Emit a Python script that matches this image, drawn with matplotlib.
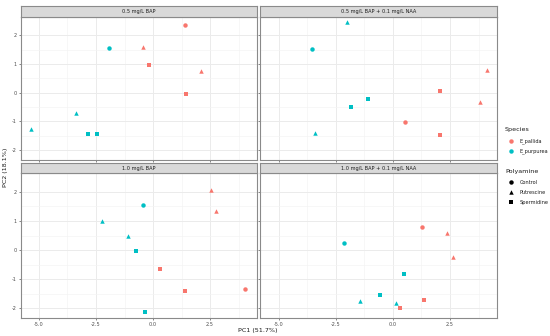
import matplotlib
matplotlib.use("Agg")
import matplotlib.pyplot as plt
from matplotlib.lines import Line2D
import numpy as np

plt.rcParams["axes.unicode_minus"] = False

panels = ["0.5 mg/L BAP", "0.5 mg/L BAP + 0.1 mg/L NAA",
          "1.0 mg/L BAP", "1.0 mg/L BAP + 0.1 mg/L NAA"]
species_names = ["E_pallida", "E_purpurea"]
polyamine_names = ["Control", "Putrescine", "Spermidine"]
x_tick_labels = ["-5.0", "-2.5", "0.0", "2.5"]

# panel 0: 0.5 mg/L BAP
p0_species = ["E_purpurea", "E_pallida", "E_pallida", "E_pallida", "E_pallida",
              "E_pallida", "E_purpurea", "E_purpurea", "E_purpurea", "E_purpurea"]
p0_poly = ["Control", "Putrescine", "Control", "Spermidine", "Putrescine",
           "Spermidine", "Putrescine", "Putrescine", "Spermidine", "Spermidine"]
p0_pc1 = [-1.94, -0.43, 1.39, -0.19, 2.10, 1.45, -3.36, -5.35, -2.86, -2.46]
p0_pc2 = [1.56, 1.59, 2.34, 0.96, 0.74, -0.05, -0.72, -1.26, -1.42, -1.45]

# panel 1: 0.5 mg/L BAP + 0.1 mg/L NAA
p1_species = ["E_purpurea", "E_purpurea", "E_pallida", "E_purpurea", "E_purpurea",
              "E_pallida", "E_purpurea", "E_pallida", "E_pallida", "E_pallida"]
p1_poly = ["Putrescine", "Control", "Spermidine", "Spermidine", "Spermidine",
           "Control", "Putrescine", "Spermidine", "Putrescine", "Putrescine"]
p1_pc1 = [-2.02, -3.52, 2.08, -1.07, -1.81, 0.53, -3.40, 2.08, 4.11, 3.80]
p1_pc2 = [2.45, 1.52, 0.05, -0.21, -0.49, -1.02, -1.39, -1.47, 0.78, -0.31]

# panel 2: 1.0 mg/L BAP
p2_species = ["E_pallida", "E_pallida", "E_purpurea", "E_purpurea", "E_purpurea",
              "E_purpurea", "E_pallida", "E_pallida", "E_pallida", "E_purpurea"]
p2_poly = ["Putrescine", "Putrescine", "Control", "Putrescine", "Putrescine",
           "Spermidine", "Spermidine", "Spermidine", "Control", "Spermidine"]
p2_pc1 = [2.54, 2.78, -0.43, -2.22, -1.10, -0.76, 0.32, 1.42, 4.04, -0.36]
p2_pc2 = [2.06, 1.34, 1.54, 0.99, 0.50, -0.03, -0.66, -1.41, -1.34, -2.13]

# panel 3: 1.0 mg/L BAP + 0.1 mg/L NAA
p3_species = ["E_pallida", "E_pallida", "E_pallida", "E_purpurea", "E_purpurea",
              "E_purpurea", "E_pallida", "E_purpurea", "E_purpurea", "E_pallida"]
p3_poly = ["Control", "Putrescine", "Putrescine", "Control", "Spermidine",
           "Spermidine", "Spermidine", "Putrescine", "Putrescine", "Spermidine"]
p3_pc1 = [1.26, 2.36, 2.62, -2.13, 0.50, -0.58, 1.36, -1.42, 0.15, 0.31]
p3_pc2 = [0.78, 0.60, -0.23, 0.23, -0.83, -1.54, -1.71, -1.76, -1.82, -2.00]

panel_data = [(p0_species, p0_poly, p0_pc1, p0_pc2),
              (p1_species, p1_poly, p1_pc1, p1_pc2),
              (p2_species, p2_poly, p2_pc1, p2_pc2),
              (p3_species, p3_poly, p3_pc1, p3_pc2)]

colors = {"E_pallida": "#F8766D", "E_purpurea": "#00BFC4"}
markers = {"Control": "o", "Putrescine": "^", "Spermidine": "s"}

W, H = 550, 336
fig = plt.figure(figsize=(W / 100, H / 100), dpi=100)

def rect(x0, y0, x1, y1):
    return [x0 / W, (H - y1) / H, (x1 - x0) / W, (y1 - y0) / H]

cols = [(20.7, 257.3), (260.3, 497.3)]
rows = [(16.7, 160.0), (173.3, 318.3)]
strips = [(6.0, 16.7), (163.0, 173.3)]

xlim = (-5.80, 4.57)
ylim = (-2.34, 2.64)
border_col = "#8a8a8a"
grid_col = "#EBEBEB"
tick_fs = 3.6
title_fs = 4.6

for i, name in enumerate(panels):
    r, c = divmod(i, 2)
    x0, x1 = cols[c]
    y0, y1 = rows[r]
    ax = fig.add_axes(rect(x0, y0, x1, y1))
    ax.set_xlim(*xlim)
    ax.set_ylim(*ylim)
    ax.set_xticks([-5.0, -2.5, 0.0, 2.5])
    ax.set_xticks([-3.75, -1.25, 1.25, 3.75], minor=True)
    ax.set_yticks([-2, -1, 0, 1, 2])
    ax.set_yticks([-1.5, -0.5, 0.5, 1.5], minor=True)
    ax.grid(True, which="major", color=grid_col, lw=0.7, zorder=0)
    ax.grid(True, which="minor", color="#F3F3F3", lw=0.45, zorder=0)
    ax.set_axisbelow(True)
    for s in ax.spines.values():
        s.set_color(border_col)
        s.set_linewidth(0.8)
    ax.tick_params(which="minor", length=0)
    ax.tick_params(which="major", length=1.6, width=0.5, color="#555555",
                   labelsize=tick_fs, labelcolor="#4d4d4d", pad=1.2)
    if r == 0:
        ax.tick_params(axis="x", labelbottom=False)
    else:
        ax.set_xticklabels(x_tick_labels)
    if c == 1:
        ax.tick_params(axis="y", labelleft=False)
    sp, po, xs, ys = panel_data[i]
    for s_, p_, x_, y_ in zip(sp, po, xs, ys):
        ax.plot([x_], [y_], linestyle="none", marker=markers[p_],
                color=colors[s_], markersize=3.2, markeredgewidth=0, zorder=3)
    # strip
    sy0, sy1 = strips[r]
    sax = fig.add_axes(rect(x0, sy0, x1, sy1))
    sax.set_facecolor("#D9D9D9")
    sax.set_xticks([]); sax.set_yticks([])
    for s in sax.spines.values():
        s.set_color(border_col)
        s.set_linewidth(0.8)
    sax.text(0.5, 0.5, name, ha="center", va="center", fontsize=tick_fs,
             color="#1a1a1a", transform=sax.transAxes)

fig.text(258 / W, 1 - 330.5 / H, "PC1 (51.7%)", ha="center", va="center",
         fontsize=title_fs, color="#1a1a1a")
fig.text(6 / W, 1 - 167 / H, "PC2 (18.1%)", ha="center", va="center",
         fontsize=title_fs, color="#1a1a1a", rotation=90)

# legends
def ly(y):
    return 1 - y / H

fig.text(505 / W, ly(130), "Species", fontsize=title_fs, va="center", ha="left",
         color="#1a1a1a")
for sname, yy in zip(species_names, [141, 151]):
    fig.add_artist(Line2D([511 / W], [ly(yy)], marker="o", linestyle="none",
                          color=colors[sname], markersize=3.2,
                          markeredgewidth=0, transform=fig.transFigure))
    fig.text(520 / W, ly(yy), sname, fontsize=tick_fs, va="center", ha="left",
             color="#1a1a1a")

fig.text(505 / W, ly(171.7), "Polyamine", fontsize=title_fs, va="center",
         ha="left", color="#1a1a1a")
for pname, yy in zip(polyamine_names, [182.3, 192.3, 202.3]):
    fig.add_artist(Line2D([511 / W], [ly(yy)], marker=markers[pname],
                          linestyle="none", color="black", markersize=3.2,
                          markeredgewidth=0, transform=fig.transFigure))
    fig.text(520 / W, ly(yy), pname, fontsize=tick_fs, va="center", ha="left",
             color="#1a1a1a")

fig.savefig("out.png", dpi=100)
